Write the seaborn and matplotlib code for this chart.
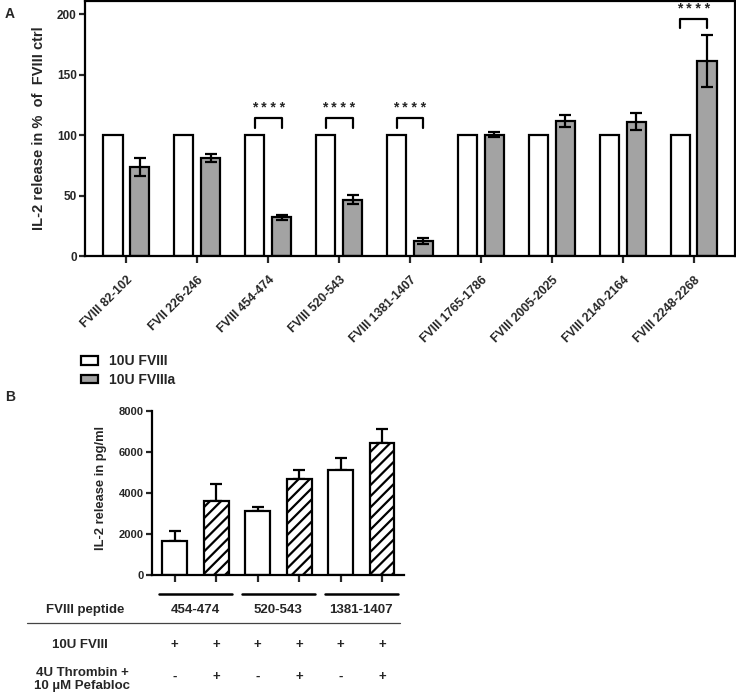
import pandas as pd
import matplotlib.pyplot as plt
import seaborn as sns
import numpy as np
from matplotlib.patches import Patch
from matplotlib.lines import Line2D
from matplotlib.transforms import blended_transform_factory

# Panel A data (IL-2 release in % of FVIII ctrl)
peptides = ['FVIII 82-102', 'FVII 226-246', 'FVIII 454-474', 'FVIII 520-543',
            'FVIII 1381-1407', 'FVIII 1765-1786', 'FVIII 2005-2025',
            'FVIII 2140-2164', 'FVIII 2248-2268']
conditions = ['10U FVIII', '10U FVIIIa']
fviii_vals = [100, 100, 100, 100, 100, 100, 100, 100, 100]
fviiia_vals = [73.5, 81, 32, 46.5, 12.4, 100.5, 111.5, 111, 161]
fviiia_err = [7.3, 3.0, 2.0, 3.6, 2.1, 1.8, 5.0, 7.0, 21.5]
signif_idx = [2, 3, 4, 8]

# Panel B data (IL-2 release in pg/ml)
b_samples = ['454-474 ctrl', '454-474 thr', '520-543 ctrl', '520-543 thr',
             '1381-1407 ctrl', '1381-1407 thr']
b_peptides = ['454-474', '520-543', '1381-1407']
b_vals = [1650, 3620, 3120, 4700, 5100, 6430]
b_err = [500, 820, 200, 440, 600, 690]
b_fviii = ['+', '+', '+', '+', '+', '+']
b_thrombin = ['-', '+', '-', '+', '-', '+']

sns.set_style('white')
plt.rcParams['font.family'] = ['Liberation Sans', 'DejaVu Sans']
plt.rcParams['font.weight'] = 'bold'
plt.rcParams['hatch.linewidth'] = 1.6

W, H = 736, 695
fig = plt.figure(figsize=(W / 100, H / 100), dpi=100)

def fx(px):
    return px / W

def fy(py):
    return 1 - py / H

# ---------------- Panel A ----------------
axA = fig.add_axes([fx(85), fy(256), fx(735) - fx(85), fy(1) - fy(256)])
dfA = pd.DataFrame({
    'peptide': peptides * 2,
    'condition': [conditions[0]] * len(peptides) + [conditions[1]] * len(peptides),
    'value': fviii_vals + fviiia_vals,
})
sns.barplot(data=dfA, x='peptide', y='value', hue='condition', order=peptides,
            hue_order=conditions, palette={conditions[0]: 'white', conditions[1]: '#a3a3a3'},
            edgecolor='black', linewidth=1.6, width=0.76, gap=0.27, errorbar=None,
            legend=False, ax=axA)

gray_x = [b.get_x() + b.get_width() / 2 for b in axA.containers[1]]
white_x = [b.get_x() + b.get_width() / 2 for b in axA.containers[0]]
axA.errorbar(gray_x, fviiia_vals, yerr=fviiia_err, fmt='none', ecolor='black',
             elinewidth=1.6, capsize=4, capthick=1.6, zorder=5)

# significance brackets
for i in signif_idx:
    top = max(fviii_vals[i], fviiia_vals[i] + fviiia_err[i]) + 14
    x0, x1 = white_x[i], gray_x[i]
    axA.plot([x0, x0, x1, x1], [top - 8, top, top, top - 8], color='black', lw=1.6,
             clip_on=False)
    axA.text((x0 + x1) / 2, top + 2.5, '* * * *', ha='center', va='bottom',
             fontsize=10, fontweight='bold')

axA.set_ylim(0, 211)
axA.set_xlim(-0.58, 8.58)
axA.set_yticks([0, 50, 100, 150, 200])
axA.set_xlabel('')
axA.set_ylabel('IL-2 release in %  of  FVIII ctrl', fontsize=10.5, fontweight='bold',
               labelpad=8)
axA.set_xticks(range(len(peptides)))
axA.set_xticklabels(peptides, rotation=45, ha='right', rotation_mode='anchor',
                    fontsize=8.8, fontweight='bold')
axA.tick_params(axis='x', which='both', direction='out', length=5, width=1.6,
                bottom=True, pad=8)
axA.tick_params(axis='y', which='both', direction='out', length=4, width=1.6,
                left=True, labelsize=8.5, pad=2)
for s in axA.spines.values():
    s.set_linewidth(1.6)
    s.set_color('black')

# legend
handles = [Patch(facecolor='white', edgecolor='black', linewidth=1.6, label=conditions[0]),
           Patch(facecolor='#a3a3a3', edgecolor='black', linewidth=1.6, label=conditions[1])]
fig.legend(handles=handles, loc='upper left', bbox_to_anchor=(fx(81), fy(354)),
           frameon=False, fontsize=10, handlelength=1.2, handleheight=0.6,
           handletextpad=0.8, labelspacing=0.35, borderpad=0, borderaxespad=0)

fig.text(fx(5), fy(14), 'A', fontsize=10, fontweight='bold', va='center', ha='left')
fig.text(fx(5), fy(397), 'B', fontsize=10, fontweight='bold', va='center', ha='left')

# ---------------- Panel B ----------------
axB = fig.add_axes([fx(152), fy(575), fx(404) - fx(152), fy(411) - fy(575)])
dfB = pd.DataFrame({'sample': b_samples, 'value': b_vals})
sns.barplot(data=dfB, x='sample', y='value', order=b_samples, color='white',
            edgecolor='black', linewidth=1.6, width=0.6, errorbar=None, ax=axB)
bars = list(axB.containers[0])
for b, t in zip(bars, b_thrombin):
    b.set_facecolor('white')
    if t == '+':
        b.set_hatch('///')
b_x = [b.get_x() + b.get_width() / 2 for b in bars]
axB.errorbar(b_x, b_vals, yerr=[np.zeros(len(b_vals)), b_err], fmt='none',
             ecolor='black', elinewidth=1.6, capsize=4.5, capthick=1.6, zorder=0)

axB.set_ylim(0, 8000)
axB.set_xlim(-0.55, 5.53)
axB.set_yticks([0, 2000, 4000, 6000, 8000])
axB.set_xticks(range(len(b_samples)))
axB.set_xticklabels([])
axB.set_xlabel('')
axB.set_ylabel('IL-2 release in pg/ml', fontsize=9.3, fontweight='bold')
axB.yaxis.set_label_coords(-0.18, 0.53)
axB.tick_params(axis='x', direction='out', length=5, width=1.6, bottom=True)
axB.tick_params(axis='y', direction='out', length=4, width=1.6, left=True,
                labelsize=8, pad=2)
sns.despine(ax=axB)
for s in axB.spines.values():
    s.set_linewidth(1.6)
    s.set_color('black')

# table below panel B
tb = blended_transform_factory(axB.transData, fig.transFigure)
for g, pep in enumerate(b_peptides):
    xl, xr = b_x[2 * g], b_x[2 * g + 1]
    fig.add_artist(Line2D([xl - 0.38, xr + 0.38], [fy(594), fy(594)], transform=tb,
                          color='black', lw=1.8))
    fig.text((xl + xr) / 2, fy(610), pep, transform=tb, ha='center', va='center',
             fontsize=9.5, fontweight='bold')
fig.text(fx(85), fy(610), 'FVIII peptide', ha='center', va='center', fontsize=9.5,
         fontweight='bold')
fig.add_artist(Line2D([fx(27), fx(400)], [fy(623), fy(623)], color='#444444', lw=0.9))
fig.text(fx(80), fy(645), '10U FVIII', ha='center', va='center', fontsize=9.5,
         fontweight='bold')
fig.text(fx(82), fy(679.5), '4U Thrombin +\n10 µM Pefabloc', ha='center', va='center',
         fontsize=9.5, fontweight='bold', linespacing=1.1)
for x, s1, s2 in zip(b_x, b_fviii, b_thrombin):
    fig.text(x, fy(645), s1, transform=tb, ha='center', va='center', fontsize=9.5,
             fontweight='bold')
    fig.text(x, fy(677), s2, transform=tb, ha='center', va='center', fontsize=9.5,
             fontweight='bold')

fig.savefig('out.png', dpi=100)
